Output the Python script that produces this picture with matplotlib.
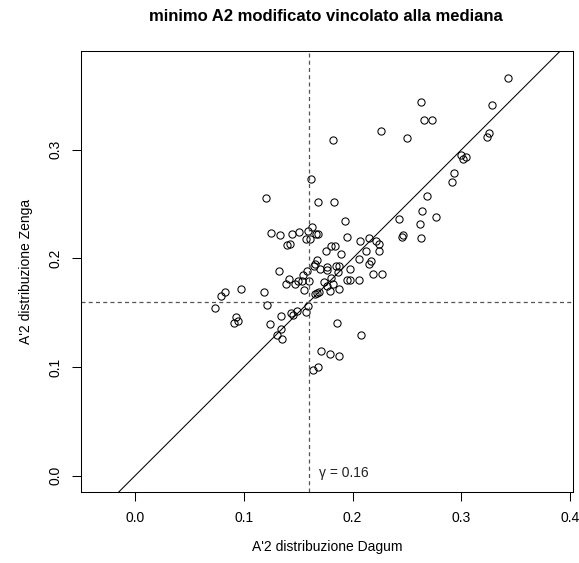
import matplotlib
matplotlib.use("Agg")
import matplotlib.pyplot as plt

# A'2 values
dagum = [0.3433, 0.2633, 0.3280, 0.2658, 0.2728, 0.2262, 0.1818, 0.2505, 0.3259, 0.3240,
         0.2995, 0.3013, 0.3041, 0.2931, 0.2918, 0.1616, 0.1208, 0.1680, 0.1830, 0.2682,
         0.1934, 0.2431, 0.2639, 0.2771, 0.2621, 0.1248, 0.1337, 0.1447, 0.1508, 0.1594,
         0.1631, 0.1576, 0.1612, 0.1665, 0.1686, 0.1953, 0.2452, 0.2468, 0.2630, 0.2066,
         0.2155, 0.2213, 0.2244, 0.1401, 0.1425, 0.1799, 0.1839, 0.1753, 0.1894, 0.2127,
         0.2247, 0.2063, 0.1671, 0.1655, 0.1646, 0.1704, 0.1766, 0.1766, 0.1848, 0.1876,
         0.1867, 0.1980, 0.2167, 0.2155, 0.2192, 0.2272, 0.1324, 0.1585, 0.1545, 0.1419,
         0.1603, 0.1502, 0.1471, 0.1389, 0.1536, 0.1806, 0.1741, 0.1824, 0.1947, 0.1977,
         0.2060, 0.1763, 0.1873, 0.1790, 0.1554, 0.1652, 0.1674, 0.1692, 0.0972, 0.0828,
         0.0788, 0.1189, 0.1211, 0.0733, 0.1588, 0.1576, 0.1490, 0.1456, 0.1435, 0.1346,
         0.0932, 0.0910, 0.0950, 0.1245, 0.1855, 0.1343, 0.1309, 0.1355, 0.2081, 0.1707,
         0.1790, 0.1879, 0.1634, 0.1683]
zenga = [0.3658, 0.3441, 0.3410, 0.3272, 0.3275, 0.3171, 0.3088, 0.3106, 0.3152, 0.3116,
         0.2953, 0.2913, 0.2932, 0.2787, 0.2702, 0.2735, 0.2557, 0.2518, 0.2521, 0.2573,
         0.2346, 0.2364, 0.2438, 0.2383, 0.2318, 0.2236, 0.2217, 0.2229, 0.2248, 0.2254,
         0.2288, 0.2183, 0.2177, 0.2223, 0.2223, 0.2202, 0.2196, 0.2214, 0.2193, 0.2159,
         0.2186, 0.2159, 0.2134, 0.2122, 0.2131, 0.2119, 0.2113, 0.2070, 0.2042, 0.2073,
         0.2073, 0.1993, 0.1990, 0.1953, 0.1932, 0.1901, 0.1923, 0.1895, 0.1935, 0.1935,
         0.1871, 0.1907, 0.1978, 0.1947, 0.1858, 0.1858, 0.1886, 0.1883, 0.1846, 0.1815,
         0.1797, 0.1797, 0.1766, 0.1763, 0.1794, 0.1818, 0.1779, 0.1766, 0.1803, 0.1803,
         0.1800, 0.1748, 0.1720, 0.1699, 0.1708, 0.1674, 0.1680, 0.1687, 0.1720, 0.1687,
         0.1650, 0.1690, 0.1576, 0.1542, 0.1561, 0.1506, 0.1512, 0.1481, 0.1500, 0.1472,
         0.1463, 0.1404, 0.1420, 0.1401, 0.1408, 0.1355, 0.1294, 0.1260, 0.1291, 0.1147,
         0.1116, 0.1101, 0.0972, 0.0997]
gamma = 0.16
x_ticks = [0.0, 0.1, 0.2, 0.3, 0.4]
y_ticks = [0.0, 0.1, 0.2, 0.3]

plt.rcParams["font.family"] = ["Liberation Sans", "DejaVu Sans"]

fig = plt.figure(figsize=(5.79, 5.63), dpi=100)
ax = fig.add_axes([0.1399, 0.1261, 0.8497, 0.7833])

ax.plot(dagum, zenga, "o", mfc="none", mec="black", mew=0.75, ms=5.2)

# bisector and median reference lines
ax.axline((0, 0), slope=1, color="black", lw=0.75)
ax.axvline(gamma, color="#555555", lw=0.9, dashes=[3.2, 2.6])
ax.axhline(gamma, color="#555555", lw=0.9, dashes=[3.2, 2.6])
ax.annotate("γ = 0.16", (gamma, 0.0), xytext=(7, 2), textcoords="offset points",
            ha="left", va="center", fontsize=10, color="#222222")

ax.set_xlim(-0.0497, 0.4027)
ax.set_ylim(-0.0150, 0.3910)
ax.set_xticks(x_ticks)
ax.set_yticks(y_ticks)
ax.set_xticklabels([f"{v:.1f}" for v in x_ticks])
ax.set_yticklabels([f"{v:.1f}" for v in y_ticks], rotation=90, va="center")
ax.tick_params(direction="out", length=6.5, width=0.75, labelsize=10, pad=7)
for s in ax.spines.values():
    s.set_linewidth(0.75)

ax.set_xlabel("A'2 distribuzione Dagum", fontsize=10, labelpad=11)
ax.set_ylabel("A'2 distribuzione Zenga", fontsize=10, labelpad=11)
fig.text(0.5625, 0.97, "minimo A2 modificato vincolato alla mediana",
         ha="center", va="center", fontsize=12, fontweight="bold")

fig.savefig("out.png", dpi=100)
